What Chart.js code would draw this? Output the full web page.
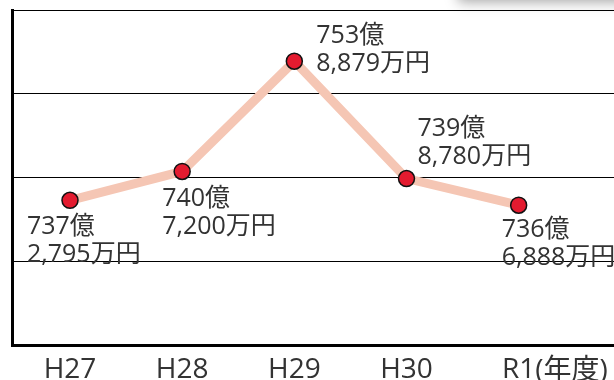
<!DOCTYPE html>
<html>
<head>
<meta charset="utf-8">
<script src="https://cdn.jsdelivr.net/npm/chart.js@4"></script>
<style>
    html, body { margin: 0; padding: 0; background: #fff; overflow: hidden; }
    #wrap { position: relative; width: 614px; height: 380px; overflow: hidden; }
    #shade { position: absolute; left: 458px; top: -40px; width: 190px; height: 40px;
             background: #fff; box-shadow: 0 2px 12px rgba(0,0,0,0.35); }
</style>
</head>
<body>
<div id="wrap"><canvas id="budgetChart" width="614" height="380"></canvas><div id="shade"></div></div>
<script>
// fiscal years and budget in 億円 (億 + 万 as decimal)
const years = ['H27', 'H28', 'H29', 'H30', 'R1'];
const budget = [737.2795, 740.72, 753.8879, 739.878, 736.6888];
const yTicks = [720, 730, 740, 750, 760];

// label placement relative to each point (px)
const labelOffsets = [[-43, 27], [-20, 27], [22, -25], [11, -50], [-17, 25]];

const FONT = "'Open Sans', 'Noto Sans CJK JP', sans-serif";

function splitLabel(v) {
    const oku = Math.floor(v);
    const man = Math.round((v - oku) * 10000);
    return [oku + '億', man.toLocaleString('en-US') + '万円'];
}

const pointLabels = {
    id: 'pointLabels',
    afterDatasetsDraw(chart) {
        const ctx = chart.ctx;
        const meta = chart.getDatasetMeta(0);
        ctx.save();
        ctx.font = '25px ' + FONT;
        ctx.fillStyle = '#333';
        ctx.textAlign = 'left';
        ctx.textBaseline = 'middle';
        meta.data.forEach((pt, i) => {
            const [dx, dy] = labelOffsets[i];
            const lines = splitLabel(budget[i]);
            ctx.fillText(lines[0], pt.x + dx, pt.y + dy);
            ctx.fillText(lines[1], pt.x + dx, pt.y + dy + 28);
        });
        ctx.restore();
    }
};

// "(年度)" unit after the last year tick
const yearUnit = {
    id: 'yearUnit',
    afterDraw(chart) {
        const x = chart.scales.x;
        const ctx = chart.ctx;
        ctx.save();
        ctx.font = '28px ' + FONT;
        ctx.fillStyle = '#333';
        ctx.textBaseline = 'middle';
        ctx.textAlign = 'left';
        const last = years.length - 1;
        const px = x.getPixelForValue(last) + ctx.measureText(years[last]).width / 2;
        ctx.fillText('(年度)', px, x.top + 26);
        ctx.restore();
    }
};

const ctx = document.getElementById('budgetChart').getContext('2d');
const chart = new Chart(ctx, {
    type: 'line',
    data: {
        datasets: [{
            data: budget.map((v, i) => ({ x: i, y: v })),
            borderColor: '#f5c6b4',
            borderWidth: 9,
            pointRadius: 8,
            pointBackgroundColor: '#e31b2f',
            pointBorderColor: '#111',
            pointBorderWidth: 1.5,
            tension: 0
        }]
    },
    options: {
        responsive: false,
        animation: false,
        layout: { autoPadding: false, padding: { left: 12, top: 10, right: 0, bottom: 0 } },
        plugins: { legend: { display: false }, tooltip: { enabled: false } },
        scales: {
            x: {
                type: 'linear',
                min: -0.517,
                max: 4.85,
                afterBuildTicks: (axis) => { axis.ticks = years.map((_, i) => ({ value: i })); },
                afterFit: (axis) => {
                    axis.height = 35;
                    axis.paddingLeft = 0;
                    axis.paddingRight = 0;
                },
                ticks: {
                    callback: (v) => years[v],
                    font: { family: FONT, size: 28 },
                    color: '#333',
                    padding: 8,
                    maxRotation: 0
                },
                grid: { display: false, drawTicks: false },
                border: { color: '#000', width: 3 }
            },
            y: {
                min: 720,
                max: 760,
                afterBuildTicks: (axis) => { axis.ticks = yTicks.map(v => ({ value: v })); },
                ticks: { display: false },
                grid: { color: '#000', lineWidth: 1, drawTicks: false },
                border: { color: '#000', width: 3 }
            }
        }
    },
    plugins: [pointLabels, yearUnit]
});
</script>
</body>
</html>
